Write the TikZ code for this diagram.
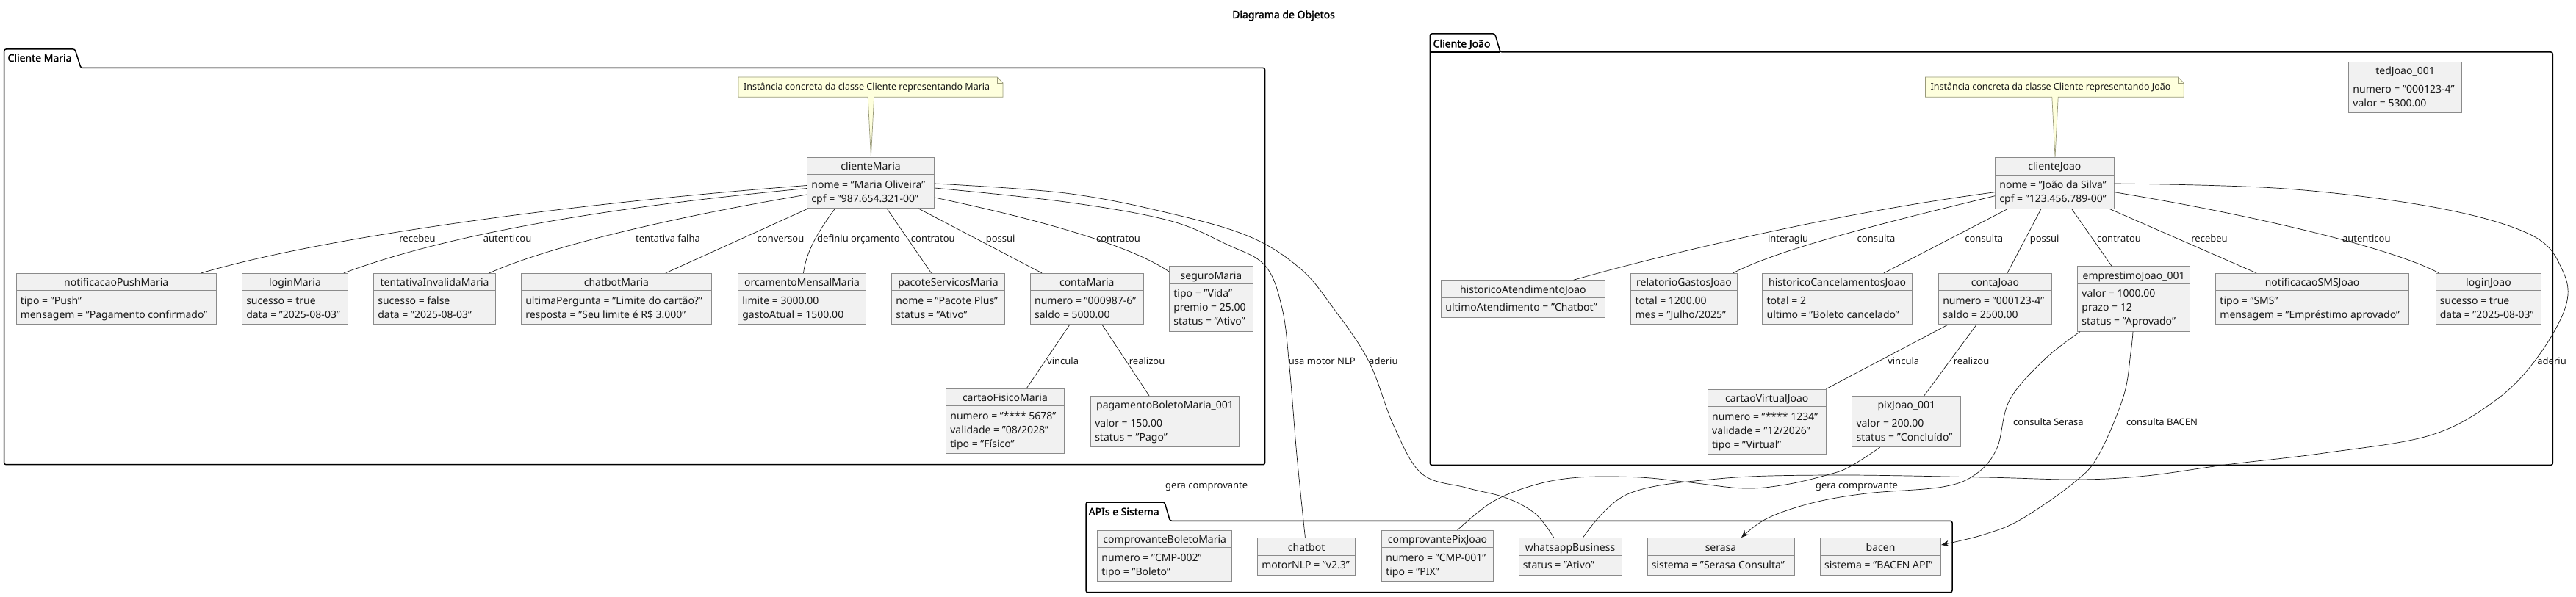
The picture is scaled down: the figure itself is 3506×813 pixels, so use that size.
\documentclass[tikz,border=0pt]{standalone}
\usepackage{fontspec}
\setmainfont{Noto Sans}
\newfontfamily\headfont{Noto Sans}[FakeBold=2]
\usetikzlibrary{fit,arrows.meta}
\definecolor{boxfill}{HTML}{F1F1F1}
\definecolor{boxline}{HTML}{8A8A8A}
\definecolor{notefill}{HTML}{FEFFDD}
\definecolor{noteline}{HTML}{9A9A7A}
\definecolor{ink}{HTML}{181818}
\tikzset{
  objbox/.style={draw=boxline, fill=boxfill, line width=0.9pt, inner sep=0pt},
  objsep/.style={draw=boxline, line width=0.9pt},
  objtitle/.style={anchor=base, inner sep=0pt, font=\fontsize{14}{16}\selectfont, text=ink},
  attr/.style={anchor=base west, inner sep=0pt, font=\fontsize{14}{16}\selectfont, text=ink},
  edge/.style={draw=ink, line width=0.7pt},
  arr/.style={-{Stealth[length=10pt,width=8pt,inset=3pt]}},
  elabel/.style={anchor=base, inner sep=0pt, font=\fontsize{13}{15}\selectfont, text=ink},
  elabelw/.style={elabel, anchor=base west},
  pkg/.style={draw=black, line width=1.5pt, rounded corners=2.5pt},
  pkgtitle/.style={anchor=base west, inner sep=0pt, font=\headfont\fontsize{14}{16}\selectfont, text=black},
  notebox/.style={draw=noteline, fill=notefill, line width=0.7pt},
  notetext/.style={anchor=base west, inner sep=0pt, font=\fontsize{12.5}{15}\selectfont, text=ink},
}
% #1 name, #2 left, #3 top, #4 right, #5 number of attributes, #6 title
\newcommand\obj[6]{%
  \pgfmathsetmacro\objbot{#3+31.5+19*#5}%
  \node[objbox, fit={(#2,#3) (#4,\objbot)}] (#1) {};%
  \draw[objsep] (#2,#3+23.5) -- (#4,#3+23.5);%
  \node[objtitle] (#1-t) at ({(#2+#4)/2},#3+17.5) {#6};%
}
% #1 box name, #2 row, #3 text
\newcommand\att[3]{\node[attr] (#1-a#2) at ([xshift=6pt,yshift={-42.5pt-19pt*#2}]#1.north west) {#3};}

\begin{document}
\begin{tikzpicture}[x=1pt,y=-1pt]
\fill[white] (0,0) rectangle (3506,813);
\useasboundingbox (0,0) rectangle (3506,813);

% title
\node[pkgtitle, anchor=base] (title) at (1747,25) {Diagrama de Objetos};

% packages
\draw[pkg] (5.7,632.7) -- (5.7,67) -- (102,67) -- (110,92.5) -- (1721.6,92.5) -- (1721.6,632.7) -- cycle;
\draw[pkg] (5.7,92.5) -- (110,92.5);
\node[pkgtitle] (pkgMaria) at (10.3,84) {Cliente Maria};

\draw[pkg] (1946.3,633.3) -- (1946.3,46) -- (2034.6,46) -- (2042,71) -- (3474.3,71) -- (3474.3,633.3) -- cycle;
\draw[pkg] (1946.3,71) -- (2042,71);
\node[pkgtitle] (pkgJoao) at (1950.4,64.5) {Cliente João};

\draw[pkg] (1478,806.7) -- (1478,684) -- (1585,684) -- (1592.4,709.3) -- (2657,709.3) -- (2657,806.7) -- cycle;
\draw[pkg] (1478,709.3) -- (1592.4,709.3);
\node[pkgtitle] (pkgApi) at (1481.5,701.8) {APIs e Sistema};

% ---------- Maria objects
\obj{cm}{1098.7}{214}{1271.5}{2}{clienteMaria}
\att{cm}{0}{nome = "Maria Oliveira"}
\att{cm}{1}{cpf = "987.654.321-00"}

\obj{np}{22}{372.3}{294.5}{2}{notificacaoPushMaria}
\att{np}{0}{tipo = "Push"}
\att{np}{1}{mensagem = "Pagamento confirmado"}

\obj{lm}{329.5}{372.3}{473.6}{2}{loginMaria}
\att{lm}{0}{sucesso = true}
\att{lm}{1}{data = "2025-08-03"}

\obj{ti}{508.6}{372.3}{674.5}{2}{tentativaInvalidaMaria}
\att{ti}{0}{sucesso = false}
\att{ti}{1}{data = "2025-08-03"}

\obj{cbm}{709.5}{372.3}{968.4}{2}{chatbotMaria}
\att{cbm}{0}{ultimaPergunta = "Limite do cartão?"}
\att{cbm}{1}{resposta = "Seu limite é R\$ 3.000"}

\obj{om}{1004.6}{372.3}{1178.5}{2}{orcamentoMensalMaria}
\att{om}{0}{limite = 3000.00}
\att{om}{1}{gastoAtual = 1500.00}

\obj{ps}{1213.5}{372.3}{1367.4}{2}{pacoteServicosMaria}
\att{ps}{0}{nome = "Pacote Plus"}
\att{ps}{1}{status = "Ativo"}

\obj{ctm}{1402.4}{372.3}{1556.2}{2}{contaMaria}
\att{ctm}{0}{numero = "000987-6"}
\att{ctm}{1}{saldo = 5000.00}

\obj{sm}{1591.6}{362.7}{1705.4}{3}{seguroMaria}
\att{sm}{0}{tipo = "Vida"}
\att{sm}{1}{premio = 25.00}
\att{sm}{2}{status = "Ativo"}

\obj{cf}{1287.6}{529.3}{1448.3}{3}{cartaoFisicoMaria}
\att{cf}{0}{numero = "**** 5678"}
\att{cf}{1}{validade = "08/2028"}
\att{cf}{2}{tipo = "Físico"}

\obj{pb}{1484.5}{539.3}{1686.5}{2}{pagamentoBoletoMaria\_001}
\att{pb}{0}{valor = 150.00}
\att{pb}{1}{status = "Pago"}

% ---------- APIs objects
\obj{cbr}{1493.7}{722.3}{1676.8}{2}{comprovanteBoletoMaria}
\att{cbr}{0}{numero = "CMP-002"}
\att{cbr}{1}{tipo = "Boleto"}

\obj{chat}{1711.6}{732.5}{1844.6}{1}{chatbot}
\att{chat}{0}{motorNLP = "v2.3"}

\obj{cpx}{1880.5}{722.3}{2032.5}{2}{comprovantePixJoao}
\att{cpx}{0}{numero = "CMP-001"}
\att{cpx}{1}{tipo = "PIX"}

\obj{wa}{2067}{732.5}{2207}{1}{whatsappBusiness}
\att{wa}{0}{status = "Ativo"}

\obj{ser}{2242}{732.5}{2442}{1}{serasa}
\att{ser}{0}{sistema = "Serasa Consulta"}

\obj{bac}{2477.4}{732.5}{2641.7}{1}{bacen}
\att{bac}{0}{sistema = "BACEN API"}

% ---------- João objects
\obj{cj}{2715.6}{214.5}{2877.2}{2}{clienteJoao}
\att{cj}{0}{nome = "João da Silva"}
\att{cj}{1}{cpf = "123.456.789-00"}

\obj{ted}{3196.7}{84.3}{3350.4}{2}{tedJoao\_001}
\att{ted}{0}{numero = "000123-4"}
\att{ted}{1}{valor = 5300.00}

\obj{ha}{1961.6}{381.7}{2184}{1}{historicoAtendimentoJoao}
\att{ha}{0}{ultimoAtendimento = "Chatbot"}

\obj{rg}{2219.8}{372.3}{2364.2}{2}{relatorioGastosJoao}
\att{rg}{0}{total = 1200.00}
\att{rg}{1}{mes = "Julho/2025"}

\obj{hc}{2398.9}{372.3}{2602.4}{2}{historicoCancelamentosJoao}
\att{hc}{0}{total = 2}
\att{hc}{1}{ultimo = "Boleto cancelado"}

\obj{ctj}{2638.5}{372.3}{2792.4}{2}{contaJoao}
\att{ctj}{0}{numero = "000123-4"}
\att{ctj}{1}{saldo = 2500.00}

\obj{ej}{2827.7}{362.7}{2980.5}{3}{emprestimoJoao\_001}
\att{ej}{0}{valor = 1000.00}
\att{ej}{1}{prazo = 12}
\att{ej}{2}{status = "Aprovado"}

\obj{ns}{3015.7}{372.3}{3278.4}{2}{notificacaoSMSJoao}
\att{ns}{0}{tipo = "SMS"}
\att{ns}{1}{mensagem = "Empréstimo aprovado"}

\obj{lj}{3315}{372.3}{3458.9}{2}{loginJoao}
\att{lj}{0}{sucesso = true}
\att{lj}{1}{data = "2025-08-03"}

\obj{cv}{2324.4}{530}{2485}{3}{cartaoVirtualJoao}
\att{cv}{0}{numero = "**** 1234"}
\att{cv}{1}{validade = "12/2026"}
\att{cv}{2}{tipo = "Virtual"}

\obj{px}{2520.8}{539.3}{2668.8}{2}{pixJoao\_001}
\att{px}{0}{valor = 200.00}
\att{px}{1}{status = "Concluído"}

% ---------- notes
\draw[notebox] (1005,105) -- (1357,105) -- (1365,113) -- (1365,132.3) -- (1189.6,132.3) -- (1185.4,0 |- cm.north) -- (1181.2,132.3) -- (1005,132.3) -- cycle;
\draw[noteline, line width=0.7pt] (1357,105) -- (1357,113) -- (1365,113);
\node[notetext] (noteMaria) at (1012,123) {Instância concreta da classe Cliente representando Maria};

\draw[notebox] (2620.5,105) -- (2964.3,105) -- (2972.3,113) -- (2972.3,132.3) -- (2801.2,132.3) -- (2797,0 |- cj.north) -- (2792.8,132.3) -- (2620.5,132.3) -- cycle;
\draw[noteline, line width=0.7pt] (2964.3,105) -- (2964.3,113) -- (2972.3,113);
\node[notetext] (noteJoao) at (2627.5,123) {Instância concreta da classe Cliente representando João};

% ---------- Maria connectors
\draw[edge] (cm.west |- 0,252.5) .. controls (800,275) and (450,320) .. (274,0 |- np.north);
\draw[edge] (cm.west |- 0,256.5) .. controls (850,280) and (620,315) .. (468,0 |- lm.north);
\draw[edge] (cm.west |- 0,265) .. controls (950,290) and (760,330) .. (666,0 |- ti.north);
\draw[edge] (1100,0 |- cm.south) -- (906,0 |- cbm.north);
\draw[edge] (1136.6,0 |- cm.south) .. controls (1110,320) and (1097,345) .. (1093.5,0 |- om.north);
\draw[edge] (1207,0 |- cm.south) -- (1267.5,0 |- ps.north);
\draw[edge] (1250,0 |- cm.south) -- (1418,0 |- ctm.north);
\draw[edge] (cm.east |- 0,269) .. controls (1420,300) and (1540,335) .. (sm.west |- 0,370);
\draw[edge] (1455.8,0 |- ctm.south) -- (1397.2,0 |- cf.north);
\draw[edge] (1500,0 |- ctm.south) -- (1564,0 |- pb.north);
\draw[edge] (1585.5,0 |- pb.south) -- (1585.5,0 |- cbr.north);
\draw[edge] plot[smooth, tension=0.6] coordinates {(cm.east |- 0,256) (1450,275) (1590,300) (1670,333) (1722,362) (1745,420) (1755,500) (1765,620) (1776.4,0 |- chat.north)};
\draw[edge] plot[smooth, tension=0.6] coordinates {(cm.east |- 0,250) (1450,263) (1590,290) (1700,322) (1770,366) (1815,420) (1863,492) (1897,580) (1935,645) (1995,664) (2050,678) (2090,700) (2114.7,0 |- wa.north)};

% ---------- João connectors
\draw[edge] (cj.west |- 0,261.7) .. controls (2500,290) and (2270,345) .. (2141.7,0 |- ha.north);
\draw[edge] (cj.west |- 0,266.7) .. controls (2600,295) and (2430,335) .. (2358.6,0 |- rg.north);
\draw[edge] (2732.6,0 |- cj.south) -- (2564,0 |- hc.north);
\draw[edge] (2778,0 |- cj.south) -- (2732,0 |- ctj.north);
\draw[edge] (2819.6,0 |- cj.south) -- (2874,0 |- ej.north);
\draw[edge] (2871,0 |- cj.south) -- (3071,0 |- ns.north);
\draw[edge] (cj.east |- 0,261.7) .. controls (3050,290) and (3250,335) .. (3319.5,0 |- lj.north);
\draw[edge] (2651,0 |- ctj.south) -- (cv.north east);
\draw[edge] (2690,0 |- ctj.south) -- (2618.8,0 |- px.north);
\draw[edge] plot[smooth, tension=0.6] coordinates {(2558.6,0 |- px.south) (2517,636) (2486,647) (2430,660) (2374,665) (2300,657) (2231,650) (2150,650) (2090,660) (2032,683) (1983.6,0 |- cpx.north)};
\draw[edge, arr] plot[smooth, tension=0.6] coordinates {(2831,0 |- ej.south) (2782,490) (2735,545) (2718,610) (2690,645) (2644,663) (2540,672) (2466,685) (2405,706) (2370,0 |- ser.north)};
\draw[edge, arr] plot[smooth, tension=0.6] coordinates {(2903,0 |- ej.south) (2900,480) (2890,540) (2856,620) (2823,657) (2751,707) (2700,728) (bac.east |- 0,742)};
\draw[edge] plot[smooth, tension=0.6] coordinates {(cj.east |- 0,250) (3111,257) (3317,283) (3445,320) (3487,367) (3492,417) (3451,490) (3394,547) (3307,593) (3163,617) (3029,633) (2921,648) (2828,653) (2700,650) (2491,647) (2338,652) (2215,673) (2154.5,0 |- wa.north)};

% ---------- labels
\node[elabel] (l1) at (568,329.5) {recebeu};
\node[elabel] (l2) at (690.6,329.5) {autenticou};
\node[elabel] (l3) at (909,329.5) {tentativa falha};
\node[elabel] (l4) at (1062.5,329.5) {conversou};
\node[elabel] (l5) at (1168.5,329.5) {definiu orçamento};
\node[elabel] (l6) at (1269.8,329.5) {contratou};
\node[elabel] (l7) at (1361.6,329.5) {possui};
\node[elabel] (l8) at (1522,329.5) {contratou};
\node[elabelw] (l9) at (1425,496) {vincula};
\node[elabelw] (l10) at (1536.6,496) {realizou};
\node[elabelw] (l11) at (1753.7,496) {usa motor NLP};
\node[elabelw] (l12) at (1863,496) {aderiu};
\node[elabelw] (l13) at (1586,665.5) {gera comprovante};

\node[elabel] (j1) at (2433.6,329.5) {interagiu};
\node[elabel] (j2) at (2553.5,329.5) {consulta};
\node[elabel] (j3) at (2700.2,329.5) {consulta};
\node[elabel] (j4) at (2782.6,329.5) {possui};
\node[elabel] (j5) at (2884,329.5) {contratou};
\node[elabel] (j6) at (3007,329.5) {recebeu};
\node[elabel] (j7) at (3220.8,329.5) {autenticou};
\node[elabel] (j8) at (2590.7,496) {vincula};
\node[elabelw] (j9) at (2658.6,496) {realizou};
\node[elabelw] (j10) at (3453.2,496) {aderiu};
\node[elabelw] (j11) at (2470.8,665.5) {gera comprovante};
\node[elabelw] (j12) at (2740,579.5) {consulta Serasa};
\node[elabelw] (j13) at (2893.8,579.5) {consulta BACEN};

\end{tikzpicture}
\end{document}
